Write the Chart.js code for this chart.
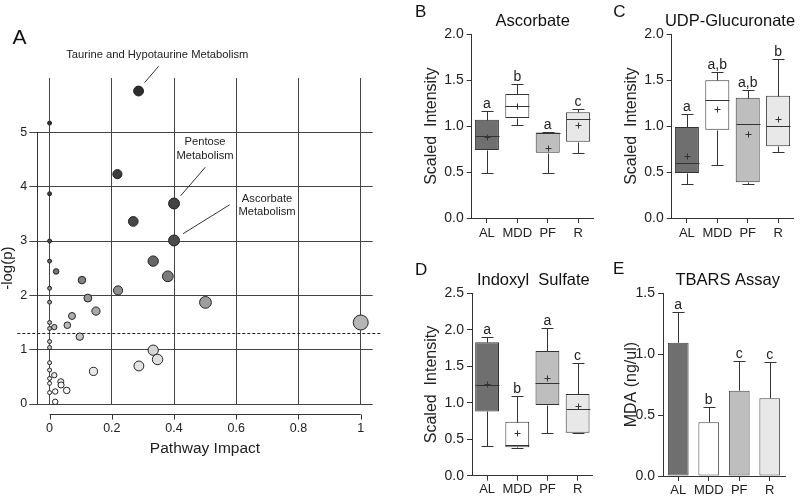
<!DOCTYPE html>
<html>
<head>
<meta charset="utf-8">
<script src="https://cdn.jsdelivr.net/npm/chart.js@4"></script>
<style>
  body { margin: 0; background: #fff; width: 800px; height: 497px; position: relative; overflow: hidden; }
  canvas { position: absolute; }
</style>
</head>
<body>
<canvas id="pathway" width="400" height="497" style="left:0;top:0"></canvas>
<canvas id="ascorbate" width="200" height="250" style="left:400px;top:0"></canvas>
<canvas id="udp" width="200" height="250" style="left:600px;top:0"></canvas>
<canvas id="indoxyl" width="200" height="247" style="left:400px;top:250px"></canvas>
<canvas id="tbars" width="200" height="247" style="left:600px;top:250px"></canvas>
<script>
const FONT = '"Liberation Sans", Arial, sans-serif';
Chart.defaults.font.family = FONT;
Chart.defaults.color = "#222";

// panel A: pathway impact vs -log(p); first three are the labelled pathways
const pathwayImpact = [0.286, 0.400, 0.400, 0, 0.218, 0, 0.269, 0, 0.333, 0, 0.021, 0.380, 0.104,
  0.220, 0, 0.123, 0, 0.501, 0.149, 0.072, 1.0, 0, 0.057, 0.015, 0, 0.097, 0, 0, 0.333, 0.347,
  0, 0.287, 0, 0.141, 0.015, 0, 0.036, 0, 0.037, 0.055, 0.018, 0, 0.018];
const pathwayLogP = [5.76, 3.69, 3.01, 5.17, 4.23, 3.87, 3.36, 3.00, 2.63, 2.63, 2.44, 2.35, 2.28,
  2.09, 2.13, 1.95, 1.875, 1.87, 1.71, 1.62, 1.50, 1.50, 1.45, 1.415, 1.39, 1.24, 1.15, 1.04, 0.99, 0.82,
  0.76, 0.70, 0.625, 0.60, 0.53, 0.47, 0.41, 0.38, 0.35, 0.25, 0.23, 0.21, 0.04];
const pThreshold = 0.05;

const groups = ["AL", "MDD", "PF", "R"];

// box plots: [min, q1, median, q3, max]
const ascorbateBox = [[0.49, 0.74, 0.89, 1.07, 1.17], [1.01, 1.09, 1.22, 1.35, 1.46],
  [0.49, 0.71, 0.92, 0.93, 0.94], [0.71, 0.83, 1.08, 1.15, 1.19]];
const ascorbateMean = [0.88, 1.22, 0.76, 1.01];
const ascorbateLetters = ["a", "b", "a", "c"];

const udpBox = [[0.375, 0.49, 0.60, 0.99, 1.13], [0.58, 0.96, 1.28, 1.50, 1.59],
  [0.375, 0.39, 1.02, 1.31, 1.39], [0.72, 0.78, 1.00, 1.33, 1.73]];
const udpMean = [0.68, 1.19, 0.91, 1.08];
const udpLetters = ["a", "a,b", "a,b", "b"];

const indoxylBox = [[0.41, 0.88, 1.25, 1.83, 1.90], [0.38, 0.39, 0.42, 0.74, 1.09],
  [0.59, 0.97, 1.27, 1.71, 2.03], [0.58, 0.59, 0.91, 1.12, 1.55]];
const indoxylMean = [1.26, 0.58, 1.34, 0.95];
const indoxylLetters = ["a", "b", "a", "c"];

// TBARS bar chart: mean and top of error bar
const tbarsMean = [1.094, 0.441, 0.70, 0.638];
const tbarsErrTop = [1.349, 0.569, 0.944, 0.938];
const tbarsLetters = ["a", "b", "c", "c"];

const groupFill = ["#6f6f6f", "#ffffff", "#bebebe", "#e8e8e8"];

function shade(v) {
  const g = v >= 3 ? 75 - (v - 3) * 11 : 255 - 180 * Math.pow(v / 3, 1.3);
  const c = Math.round(g);
  return `rgb(${c},${c},${c})`;
}

function line(ctx, x1, y1, x2, y2) {
  ctx.beginPath();
  ctx.moveTo(x1, y1);
  ctx.lineTo(x2, y2);
  ctx.stroke();
}
const crisp = v => Math.round(v) + 0.5;

const panelText = {
  id: "panelText",
  afterDraw(chart, args, o) {
    const ctx = chart.ctx;
    ctx.save();
    ctx.fillStyle = "#111";
    ctx.textAlign = "left";
    ctx.textBaseline = "alphabetic";
    ctx.font = `${o.letterSize || 17}px ${FONT}`;
    ctx.fillText(o.letter, o.letterX, o.letterY);
    if (o.title) {
      ctx.textAlign = "center";
      ctx.textBaseline = "middle";
      ctx.font = `16.5px ${FONT}`;
      ctx.fillText(o.title, o.titleX, o.titleY);
    }
    ctx.restore();
  }
};

const boxExtras = {
  id: "boxExtras",
  afterDatasetsDraw(chart, args, o) {
    if (!o.stats) return;
    const { ctx, scales: { y } } = chart;
    const meta = chart.getDatasetMeta(0);
    ctx.save();
    ctx.strokeStyle = "#333";
    ctx.lineWidth = 1;
    ctx.fillStyle = "#222";
    ctx.font = `14px ${FONT}`;
    ctx.textAlign = "center";
    ctx.textBaseline = "alphabetic";
    o.stats.forEach((s, i) => {
      const bar = meta.data[i];
      const cx = crisp(bar.x);
      const hw = bar.width / 2, cap = bar.width / 4;
      const [lo, q1, med, q3, hi] = s.map(v => crisp(y.getPixelForValue(v)));
      line(ctx, cx, q3, cx, hi);
      line(ctx, cx - cap, hi, cx + cap, hi);
      line(ctx, cx, q1, cx, lo);
      line(ctx, cx - cap, lo, cx + cap, lo);
      line(ctx, cx - hw, med, cx + hw, med);
      const m = crisp(y.getPixelForValue(o.means[i]));
      line(ctx, cx - 3, m, cx + 3, m);
      line(ctx, cx, m - 3, cx, m + 3);
      ctx.fillText(o.letters[i], bar.x, hi - 4);
    });
    ctx.restore();
  }
};

const errorBars = {
  id: "errorBars",
  afterDatasetsDraw(chart, args, o) {
    if (!o.tops) return;
    const { ctx, scales: { y } } = chart;
    const meta = chart.getDatasetMeta(0);
    ctx.save();
    ctx.strokeStyle = "#333";
    ctx.lineWidth = 1;
    ctx.fillStyle = "#222";
    ctx.font = `14px ${FONT}`;
    ctx.textAlign = "center";
    o.tops.forEach((t, i) => {
      const bar = meta.data[i];
      const cx = crisp(bar.x);
      const top = crisp(y.getPixelForValue(t));
      line(ctx, cx, bar.y, cx, top);
      line(ctx, cx - 6, top, cx + 6, top);
      ctx.fillText(o.letters[i], bar.x, top - 4);
    });
    ctx.restore();
  }
};

const pathwayExtras = {
  id: "pathwayExtras",
  beforeDatasetsDraw(chart, args, o) {
    const { ctx, chartArea: a, scales: { y } } = chart;
    const py = crisp(y.getPixelForValue(-Math.log10(o.threshold)));
    ctx.save();
    ctx.strokeStyle = "#222";
    ctx.lineWidth = 1;
    ctx.setLineDash([3, 2]);
    line(ctx, a.left - 20, py, a.right + 8, py);
    ctx.restore();
  },
  afterDraw(chart, args, o) {
    const { ctx, chartArea: a, scales: { x, y } } = chart;
    ctx.save();
    ctx.strokeStyle = "#333";
    ctx.lineWidth = 1;
    // offset axis lines
    const lx = crisp(a.left);
    line(ctx, lx, y.getPixelForValue(5), lx, y.getPixelForValue(0));
    const by = crisp(y.getPixelForValue(0) + 10);
    line(ctx, x.getPixelForValue(0), by, x.getPixelForValue(1), by);
    x.ticks.forEach(t => {
      const px = crisp(x.getPixelForValue(t.value));
      line(ctx, px, by, px, by + 5);
    });
    // pathway labels
    const meta = chart.getDatasetMeta(0);
    ctx.fillStyle = "#222";
    ctx.font = `11.2px ${FONT}`;
    ctx.textAlign = "center";
    ctx.textBaseline = "middle";
    o.labels.forEach(l => {
      const p = meta.data[l.index];
      l.lines.forEach((t, k) => ctx.fillText(t, p.x + l.dx, p.y + l.dy + k * 13.3));
      line(ctx, p.x + l.from[0], p.y + l.from[1], p.x + l.to[0], p.y + l.to[1]);
    });
    // y title
    ctx.save();
    ctx.translate(8, (y.getPixelForValue(5) + y.getPixelForValue(0)) / 2);
    ctx.rotate(-Math.PI / 2);
    ctx.font = `15px ${FONT}`;
    ctx.fillText("-log(p)", 0, 0);
    ctx.restore();
    // panel letter
    ctx.textAlign = "left";
    ctx.textBaseline = "alphabetic";
    ctx.font = `21px ${FONT}`;
    ctx.fillStyle = "#111";
    ctx.fillText("A", 12.5, 44.3);
    ctx.restore();
  }
};

new Chart(document.getElementById("pathway"), {
  type: "scatter",
  data: {
    datasets: [{
      data: pathwayImpact.map((v, i) => ({ x: v, y: pathwayLogP[i] })),
      pointRadius: c => 2 + 5.5 * Math.sqrt(c.raw.x),
      pointBackgroundColor: c => shade(c.raw.y),
      pointBorderColor: "#222",
      pointBorderWidth: 1,
      clip: false
    }]
  },
  options: {
    responsive: false,
    devicePixelRatio: 1,
    animation: false,
    layout: { padding: { left: 0, top: 78, right: 27.3, bottom: 0 } },
    plugins: {
      legend: { display: false },
      tooltip: { enabled: false },
      pathwayExtras: {
        threshold: pThreshold,
        labels: [
          { index: 0, lines: ["Taurine and Hypotaurine Metabolism"], dx: 18.7, dy: -35.7, from: [20, -24.7], to: [6, -8.4] },
          { index: 1, lines: ["Pentose", "Metabolism"], dx: 31, dy: -61.3, from: [31.3, -36.3], to: [6.6, -7.7] },
          { index: 2, lines: ["Ascorbate", "Metabolism"], dx: 93, dy: -41.7, from: [55.6, -35.7], to: [9, -6.7] }
        ]
      }
    },
    scales: {
      x: {
        type: "linear",
        min: -0.0395,
        max: 1.0385,
        afterBuildTicks: s => { s.ticks = [0, 0.2, 0.4, 0.6, 0.8, 1].map(v => ({ value: v })); },
        ticks: { callback: v => String(+v.toFixed(1)), padding: 17, font: { size: 12.5 }, maxRotation: 0, autoSkip: false },
        grid: { color: "#444", drawTicks: false },
        border: { display: false },
        title: { display: true, text: "Pathway Impact", font: { size: 15.5 }, padding: { top: 0, bottom: 38.7 } },
        afterFit: s => { s.height = 93; }
      },
      y: {
        min: 0,
        max: 6,
        afterBuildTicks: s => { s.ticks = [0, 1, 2, 3, 4, 5].map(v => ({ value: v })); },
        ticks: { padding: 2, font: { size: 12.5 } },
        grid: { color: "#444", tickLength: 8 },
        border: { display: false },
        afterFit: s => { s.width = 37.3; }
      }
    }
  },
  plugins: [pathwayExtras]
});

function groupScales(o) {
  const axisGrid = { drawOnChartArea: false, tickLength: 5, color: "#333" };
  return {
    x: {
      ticks: { font: { size: 13 }, padding: o.xPad, maxRotation: 0, autoSkip: false },
      grid: { ...axisGrid, offset: false },
      border: { color: "#333" },
      afterFit: s => { s.height = o.h - o.area.bottom; }
    },
    y: {
      min: 0,
      max: o.yMax,
      ticks: { stepSize: 0.5, callback: v => v.toFixed(1), font: { size: 14 }, padding: 3 },
      grid: axisGrid,
      border: { color: "#333" },
      title: { display: true, text: o.yTitle, font: { size: 16 }, padding: { top: 22, bottom: 0 } },
      afterFit: s => { s.width = o.area.left; }
    }
  };
}

function boxChart(id, o) {
  new Chart(document.getElementById(id), {
    type: "bar",
    data: {
      labels: groups,
      datasets: [{
        data: o.box.map(b => [b[1], b[3]]),
        backgroundColor: groupFill,
        borderColor: "#333",
        borderWidth: 1,
        borderSkipped: false,
        barPercentage: 0.79,
        categoryPercentage: 1
      }]
    },
    options: {
      responsive: false,
      devicePixelRatio: 1,
      animation: false,
      layout: { padding: { left: 0, top: o.area.top, right: o.w - o.area.right, bottom: 0 } },
      plugins: {
        legend: { display: false },
        tooltip: { enabled: false },
        panelText: o.text,
        boxExtras: { stats: o.box, means: o.mean, letters: o.letters }
      },
      scales: groupScales(o)
    },
    plugins: [panelText, boxExtras]
  });
}

boxChart("ascorbate", {
  box: ascorbateBox, mean: ascorbateMean, letters: ascorbateLetters,
  yMax: 2, yTitle: "Scaled  Intensity", w: 200, h: 250, xPad: 3,
  area: { left: 71.7, right: 193.3, top: 34.3, bottom: 218 },
  text: { letter: "B", letterX: 15, letterY: 17.3, title: "Ascorbate", titleX: 132.7, titleY: 21.7 }
});

boxChart("udp", {
  box: udpBox, mean: udpMean, letters: udpLetters,
  yMax: 2, yTitle: "Scaled  Intensity", w: 200, h: 250, xPad: 3,
  area: { left: 71.7, right: 193.3, top: 34.3, bottom: 218 },
  text: { letter: "C", letterX: 13.3, letterY: 17.3, title: "UDP-Glucuronate", titleX: 130, titleY: 21.7 }
});

boxChart("indoxyl", {
  box: indoxylBox, mean: indoxylMean, letters: indoxylLetters,
  yMax: 2.5, yTitle: "Scaled  Intensity", w: 200, h: 247, xPad: 1,
  area: { left: 72, right: 192.7, top: 43.3, bottom: 225.7 },
  text: { letter: "D", letterX: 15, letterY: 25, title: "Indoxyl  Sulfate", titleX: 133.3, titleY: 30 }
});

new Chart(document.getElementById("tbars"), {
  type: "bar",
  data: {
    labels: groups,
    datasets: [{
      data: tbarsMean,
      backgroundColor: groupFill,
      borderColor: "#444",
      borderWidth: 1,
      borderSkipped: false,
      barPercentage: 0.68,
      categoryPercentage: 1
    }]
  },
  options: {
    responsive: false,
    devicePixelRatio: 1,
    animation: false,
    layout: { padding: { left: 0, top: 43.3, right: 15, bottom: 0 } },
    plugins: {
      legend: { display: false },
      tooltip: { enabled: false },
      panelText: { letter: "E", letterX: 13, letterY: 24, title: "TBARS Assay", titleX: 127.7, titleY: 30 },
      errorBars: { tops: tbarsErrTop, letters: tbarsLetters }
    },
    scales: groupScales({
      yMax: 1.5, yTitle: "MDA (ng/ul)", h: 247, xPad: 1.5,
      area: { left: 63, right: 185, top: 43.3, bottom: 226 }
    })
  },
  plugins: [panelText, errorBars]
});
</script>
</body>
</html>
